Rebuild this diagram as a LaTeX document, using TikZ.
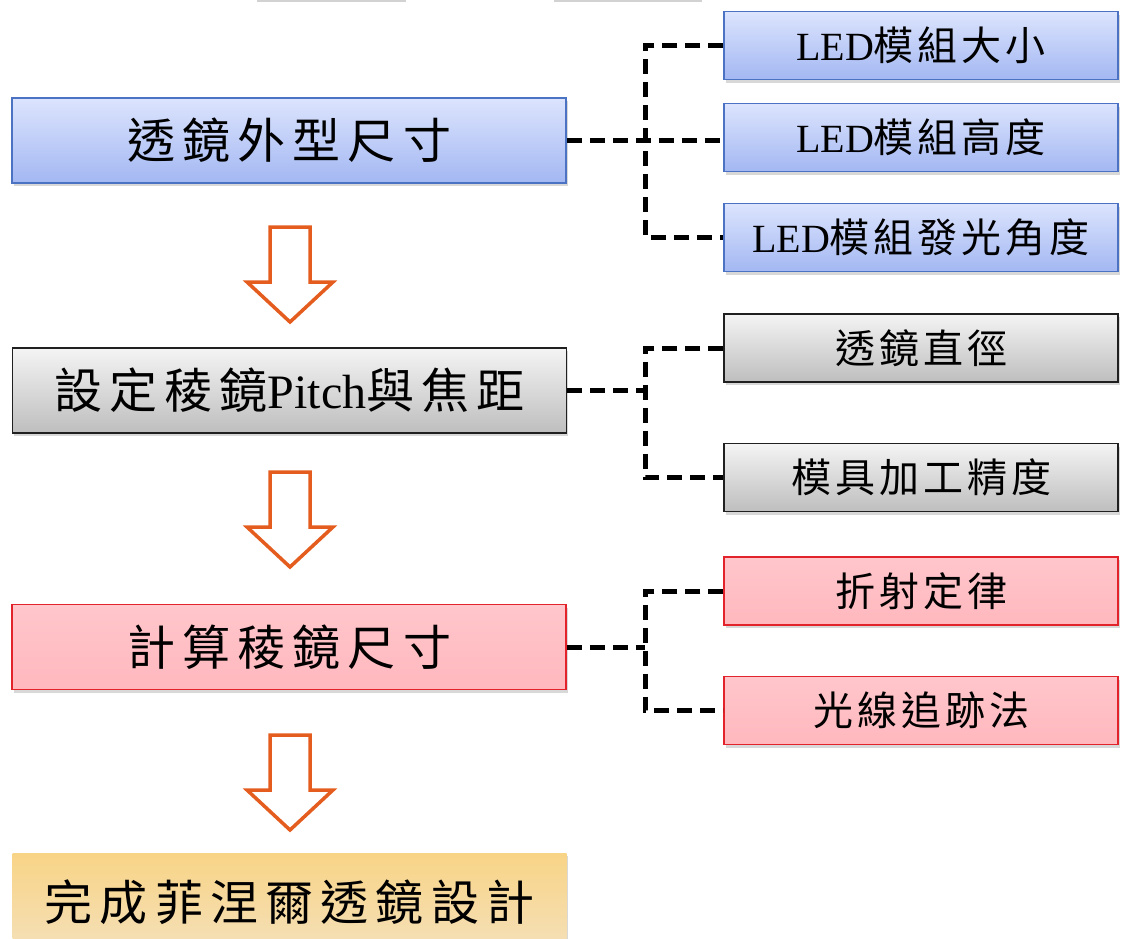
\documentclass[tikz,border=0pt]{standalone}
\usepackage{fontspec}
\setmainfont{Liberation Serif}
\newfontfamily\cjkL[LetterSpace=15]{Noto Sans CJK TC}
\newfontfamily\cjkS[LetterSpace=10]{Noto Sans CJK TC}
\usetikzlibrary{shadows}
\definecolor{blueT}{HTML}{DCE4FD}
\definecolor{blueB}{HTML}{A3B7F2}
\definecolor{blueD}{HTML}{4C72C4}
\definecolor{grayT}{HTML}{F4F4F4}
\definecolor{grayB}{HTML}{BEBEBE}
\definecolor{grayD}{HTML}{202020}
\definecolor{redT}{HTML}{FFC6CB}
\definecolor{redB}{HTML}{FFB8BE}
\definecolor{redD}{HTML}{E3232B}
\definecolor{goldT}{HTML}{F8D486}
\definecolor{goldB}{HTML}{F4E0BA}
\definecolor{arrowC}{HTML}{E45D1E}
\tikzset{
  box/.style={draw, line width=1.5pt, inner sep=0pt,
    drop shadow={shadow xshift=1.5pt,shadow yshift=-3pt,opacity=0.3}},
  mainbox/.style={box, minimum width=554pt, minimum height=85pt,
    font=\fontsize{48}{48}\selectfont},
  sidebox/.style={box, minimum width=394pt, minimum height=68pt,
    font=\fontsize{40}{40}\selectfont},
  bluebox/.style={top color=blueT, bottom color=blueB, draw=blueD},
  graybox/.style={top color=grayT, bottom color=grayB, draw=grayD},
  redbox/.style={top color=redT, bottom color=redB, draw=redD},
  goldbox/.style={top color=goldT, bottom color=goldB, draw=none},
  link/.style={line width=5pt, dash pattern=on 15pt off 8pt, black},
  arrowline/.style={draw=arrowC, fill=white, line width=3.5pt, line join=miter},
  topfrag/.style={draw=gray!35, line width=1.5pt},
  bigarrow/.pic={\path[arrowline] (-20,0) -- (20,0) -- (20,55) -- (43,55) -- (0,95)
      -- (-43,55) -- (-20,55) -- cycle;}
}
\begin{document}
\begin{tikzpicture}[x=1pt,y=-1pt]
\useasboundingbox (0,0) rectangle (1121,938);
\clip (0,0) rectangle (1121,938);
\fill[white] (0,0) rectangle (1121,938);
% cut-off fragments at top edge
\draw[topfrag] (257,1) -- (406,1);
\draw[topfrag] (554,1) -- (702,1);
% main column
\node[mainbox, bluebox] (m1) at (289,140.5) {\cjkL 透鏡外型尺寸};
\node[mainbox, graybox] (m2) at (289.5,390.5) {{\cjkL 設定稜鏡}Pitch{\cjkL 與焦距}};
\node[mainbox, redbox] (m3) at (289,647) {\cjkL 計算稜鏡尺寸};
\node[mainbox, goldbox, minimum height=100pt, text depth=5pt] (m4) at (289.5,903) {\cjkL 完成菲涅爾透鏡設計};
% side boxes
\node[sidebox, bluebox] (b1) at (921,45.5) {LED{\cjkS 模組大小}};
\node[sidebox, bluebox] (b2) at (921,137.5) {LED{\cjkS 模組高度}};
\node[sidebox, bluebox] (b3) at (921,237.5) {LED{\cjkS 模組發光角度}};
\node[sidebox, graybox] (g1) at (921,348) {\cjkS 透鏡直徑};
\node[sidebox, graybox] (g2) at (921,477.5) {\cjkS 模具加工精度};
\node[sidebox, redbox] (r1) at (921,591) {\cjkS 折射定律};
\node[sidebox, redbox] (r2) at (921,710.5) {\cjkS 光線追跡法};
% block arrows
\pic at (290,227) {bigarrow};
\pic at (290,472) {bigarrow};
\pic at (290,735) {bigarrow};
% connectors
\coordinate (jx) at (645,0);
\draw[link] (m1.east) -- (m1.east -| b2.west);
\draw[link] (b1.west) -- (b1.west -| jx) -- (b3.west -| jx) -- (b3.west);
\draw[link] (m2.east) -- (m2.east -| jx);
\draw[link] (g1.west) -- (g1.west -| jx) -- (g2.west -| jx) -- (g2.west);
\draw[link] (m3.east) -- (m3.east -| jx);
\draw[link] (r1.west) -- (r1.west -| jx) -- (r2.west -| jx) -- (r2.west);
\end{tikzpicture}
\end{document}
